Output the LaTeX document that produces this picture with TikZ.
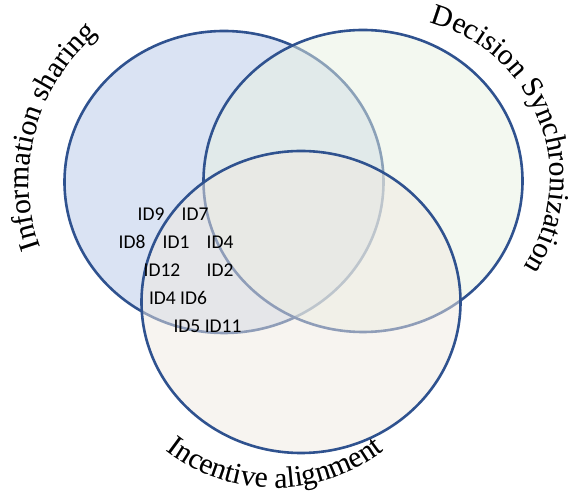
\documentclass[tikz,border=0pt]{standalone}
\usepackage{fontspec}
\setmainfont{Liberation Serif}
\newfontfamily\idfont{Carlito}
\usetikzlibrary{decorations.text}
\definecolor{edgeblue}{RGB}{47,82,143}
\definecolor{fillA}{RGB}{218,227,243}
\definecolor{fillB}{RGB}{232,241,226}
\definecolor{fillC}{RGB}{240,233,225}
\newcommand\arclabelfont{\fontsize{29.5}{32}\selectfont}
\begin{document}
\begin{tikzpicture}[
  vennshape/.style={draw=edgeblue, line width=2.6pt, x radius=159.5pt, y radius=151pt},
  idlbl/.style={font=\idfont\fontsize{19.5}{22}\selectfont, anchor=base, inner sep=0pt},
  curvedlbl/.style={decorate, decoration={text along path, text align=center, text={#1}}},
  shadowfar/.style={xshift=3.2pt, yshift=-3.6pt},
  shadownear/.style={xshift=2pt, yshift=-2.4pt},
]
\useasboundingbox (0,0) rectangle (573pt,497pt);
\coordinate (cA) at (224pt,315pt);
\coordinate (cB) at (363pt,316pt);
\coordinate (cC) at (301pt,195pt);
\coordinate (tA) at (224pt,315pt);
\coordinate (tB) at (388pt,318pt);
\coordinate (tC) at (275pt,186pt);

% circles
\path[vennshape, fill=fillA] (cA) ellipse [];
\path[vennshape, fill=fillB, fill opacity=0.5] (cB) ellipse [];
\path[vennshape, fill=fillC, fill opacity=0.5] (cC) ellipse [];

% curved labels: soft shadows
\foreach \sh/\col in {shadowfar/black!15, shadownear/black!32}{
  \path[curvedlbl={|\arclabelfont\color{\col}|Information sharing}, \sh]
    ([shift={(210:195pt)}]tA) arc[start angle=210, end angle=120, radius=195pt];
  \path[curvedlbl={|\arclabelfont\color{\col}|Decision Synchronization}, \sh]
    ([shift={(86:162pt)}]tB) arc[start angle=86, end angle=-44, radius=162pt];
  \path[curvedlbl={|\arclabelfont\color{\col}|Incentive alignment}, \sh]
    ([shift={(220:177pt)}]tC) arc[start angle=220, end angle=320, radius=177pt];
}

% curved labels
\path[curvedlbl={|\arclabelfont|Information sharing}]
  ([shift={(210:195pt)}]tA) arc[start angle=210, end angle=120, radius=195pt];
\path[curvedlbl={|\arclabelfont|Decision Synchronization}]
  ([shift={(86:162pt)}]tB) arc[start angle=86, end angle=-44, radius=162pt];
\path[curvedlbl={|\arclabelfont|Incentive alignment}]
  ([shift={(220:177pt)}]tC) arc[start angle=220, end angle=320, radius=177pt];

% ID labels
\node[idlbl] (id9)  at (151pt,276.7pt) {ID9};
\node[idlbl] (id7)  at (195pt,276.7pt) {ID7};
\node[idlbl] (id8)  at (132pt,248.7pt) {ID8};
\node[idlbl] (id1)  at (176pt,248.7pt) {ID1};
\node[idlbl] (id4a) at (220pt,248.7pt) {ID4};
\node[idlbl] (id12) at (162pt,220.7pt) {ID12};
\node[idlbl] (id2)  at (220pt,220.7pt) {ID2};
\node[idlbl] (id46) at (178pt,192.7pt) {ID4 ID6};
\node[idlbl] (id511) at (207.5pt,164.7pt) {ID5 ID11};
\end{tikzpicture}
\end{document}
